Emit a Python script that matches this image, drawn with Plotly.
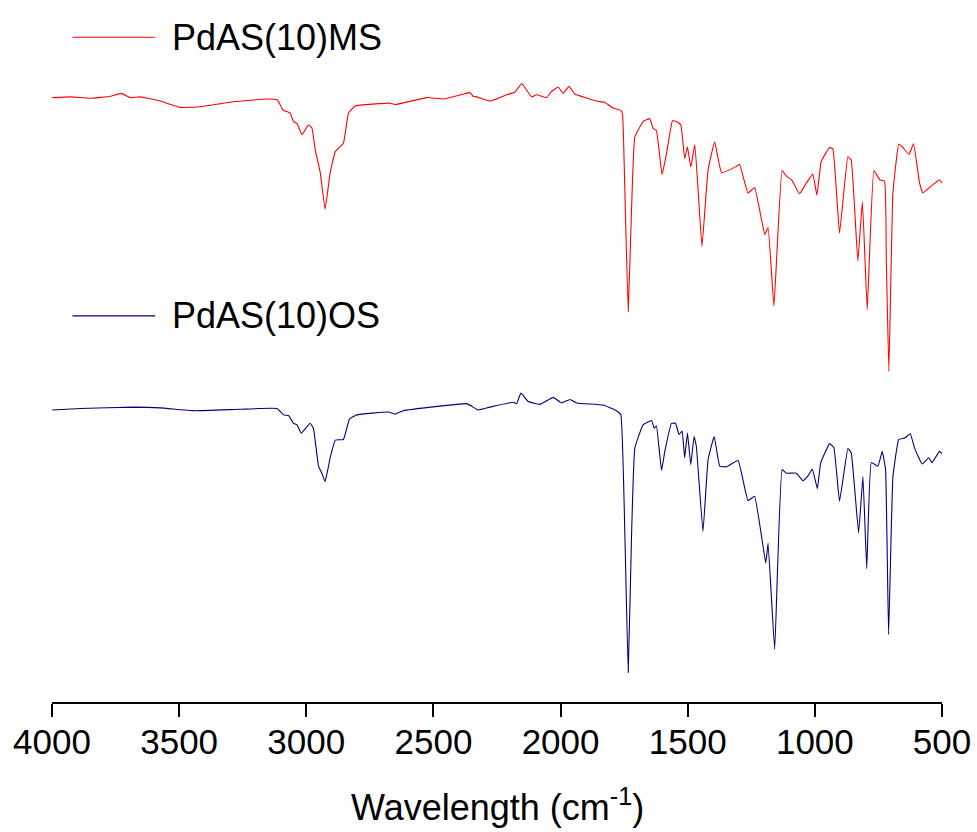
import plotly.graph_objects as go

# Wavenumber (cm^-1) and transmittance-like values (a.u.)
ms_wn = [3999, 3927, 3849, 3770, 3728, 3692, 3652, 3574, 3495, 3417, 3287, 3153, 3114, 3091, 3063,
         3051, 3036, 3017, 2992, 2978, 2965, 2945, 2926, 2906, 2886, 2854, 2834, 2808, 2670, 2651,
         2526, 2461, 2382, 2356, 2344, 2330, 2278, 2212, 2179, 2153, 2114, 2094, 2055, 2035, 2009,
         1990, 1967, 1944, 1858, 1826, 1793, 1763, 1756, 1747, 1734, 1721, 1708, 1675, 1649, 1636,
         1623, 1601, 1583, 1560, 1544, 1527, 1512, 1501, 1488, 1472, 1444, 1420, 1394, 1367, 1309,
         1296, 1263, 1237, 1197, 1184, 1161, 1129, 1112, 1092, 1060, 1034, 1008, 992, 975, 942,
         929, 903, 870, 857, 831, 813, 794, 768, 745, 726, 719, 709, 693, 670, 654,
         630, 612, 588, 575, 549, 510, 500]
ms_t = [86.1, 86.2, 86.0, 86.3, 86.7, 86.1, 86.2, 85.6, 84.7, 84.8, 85.5, 85.9, 85.8, 84.3, 83.9,
        82.7, 82.4, 80.8, 82.2, 81.8, 78.7, 75.4, 70.2, 75.4, 78.4, 79.6, 83.9, 84.9, 85.3, 85.1,
        86.1, 85.9, 86.6, 86.8, 86.3, 86.2, 85.6, 86.5, 86.9, 88.1, 86.2, 86.5, 86.1, 87.0, 87.6,
        86.7, 87.7, 86.6, 85.6, 85.4, 84.6, 84.3, 83.6, 72.5, 55.6, 70.1, 80.5, 82.7, 83.1, 81.7,
        81.4, 75.1, 78.2, 82.8, 82.7, 82.2, 77.4, 79.1, 76.2, 79.4, 64.9, 75.8, 79.8, 75.4, 76.3,
        76.6, 72.5, 73.3, 66.6, 67.6, 56.4, 75.7, 74.9, 74.4, 72.4, 73.9, 75.2, 72.2, 77.0, 79.0,
        78.8, 66.8, 77.7, 77.2, 62.8, 71.3, 55.9, 75.7, 74.4, 74.2, 63.0, 47.1, 72.5, 79.5, 79.0,
        78.0, 79.5, 73.9, 72.5, 73.3, 74.4, 73.9]

os_wn = [3999, 3888, 3679, 3574, 3443, 3260, 3115, 3089, 3070, 3050, 3037, 3020, 2985, 2972, 2952,
         2939, 2926, 2906, 2886, 2854, 2830, 2801, 2677, 2651, 2618, 2369, 2348, 2324, 2278, 2186,
         2173, 2156, 2127, 2081, 2029, 1996, 1963, 1937, 1833, 1780, 1763, 1747, 1734, 1721, 1708,
         1675, 1642, 1632, 1623, 1603, 1590, 1564, 1548, 1534, 1522, 1512, 1501, 1488, 1475, 1466,
         1440, 1420, 1396, 1374, 1348, 1302, 1263, 1237, 1193, 1184, 1158, 1129, 1112, 1073, 1047,
         1027, 1010, 990, 977, 942, 925, 903, 870, 857, 828, 811, 796, 778, 752, 735,
         722, 710, 693, 670, 647, 625, 608, 578, 552, 539, 510, 500]
os_t = [41.6, 41.8, 42.0, 41.9, 41.5, 41.7, 41.8, 40.9, 40.8, 39.7, 39.5, 38.3, 39.7, 39.0, 33.6,
        32.6, 31.4, 34.8, 37.3, 37.4, 40.3, 40.9, 41.3, 41.0, 41.5, 42.5, 42.1, 41.6, 42.0, 42.7,
        42.5, 44.0, 42.8, 42.4, 43.4, 42.6, 43.1, 42.6, 42.3, 41.5, 40.9, 23.6, 4.2, 23.6, 36.2,
        39.5, 40.1, 39.0, 39.3, 33.0, 35.7, 39.7, 39.7, 38.1, 38.6, 34.8, 38.3, 33.8, 37.8, 36.4,
        24.3, 34.5, 37.8, 33.6, 33.5, 34.4, 28.7, 29.3, 19.8, 22.6, 7.5, 33.1, 32.6, 32.6, 31.5,
        32.2, 33.2, 30.4, 34.1, 36.8, 36.2, 28.6, 36.1, 35.5, 24.1, 32.1, 19.0, 34.1, 33.6, 35.7,
        33.1, 9.6, 32.1, 37.4, 37.6, 38.2, 36.2, 33.9, 34.8, 34.1, 35.7, 35.4]

series_names = ["PdAS(10)MS", "PdAS(10)OS"]
series_colors = ["#ff0000", "#000080"]
x_ticks = [4000, 3500, 3000, 2500, 2000, 1500, 1000, 500]
x_title = "Wavelength (cm<sup>-1</sup>)"

FONT = "Liberation Sans, Arial, sans-serif"

fig = go.Figure()
for wn, t, name, col in [(ms_wn, ms_t, series_names[0], series_colors[0]),
                         (os_wn, os_t, series_names[1], series_colors[1])]:
    fig.add_trace(go.Scatter(x=wn, y=t, mode="lines", name=name,
                             line=dict(color=col, width=1.1, shape="spline", smoothing=0.3),
                             showlegend=False))

# custom legend entries (line sample + label)
legend_y = [0.947, 0.550]
for name, col, ly in zip(series_names, series_colors, legend_y):
    fig.add_shape(type="line", xref="paper", yref="paper",
                  x0=0.023, x1=0.116, y0=ly, y1=ly,
                  line=dict(color=col, width=1.1))
    fig.add_annotation(xref="paper", yref="paper", x=0.133, y=ly,
                       xanchor="left", yanchor="middle", showarrow=False,
                       text=name, font=dict(family=FONT, size=36, color="black"))

# x-axis title placed below the tick labels
fig.add_annotation(xref="paper", yref="paper", x=0.5, y=-0.147,
                   xanchor="center", yanchor="middle", showarrow=False,
                   text=x_title, font=dict(family=FONT, size=36, color="black"))

fig.update_layout(
    width=977, height=832,
    margin=dict(l=51.5, r=34.5, t=0, b=129.5),
    paper_bgcolor="white", plot_bgcolor="white",
    font=dict(family=FONT, color="black"),
)
fig.update_xaxes(
    range=[4000, 500], tickvals=x_ticks, ticktext=[str(v) for v in x_ticks],
    showgrid=False, zeroline=False,
    showline=True, linecolor="black", linewidth=2,
    ticks="outside", ticklen=13, tickwidth=2, tickcolor="black",
    tickfont=dict(family=FONT, size=35, color="black"),
    ticklabelstandoff=-5,
)
fig.update_yaxes(range=[0, 100], visible=False, showgrid=False, zeroline=False)

fig.write_html("out.html")
